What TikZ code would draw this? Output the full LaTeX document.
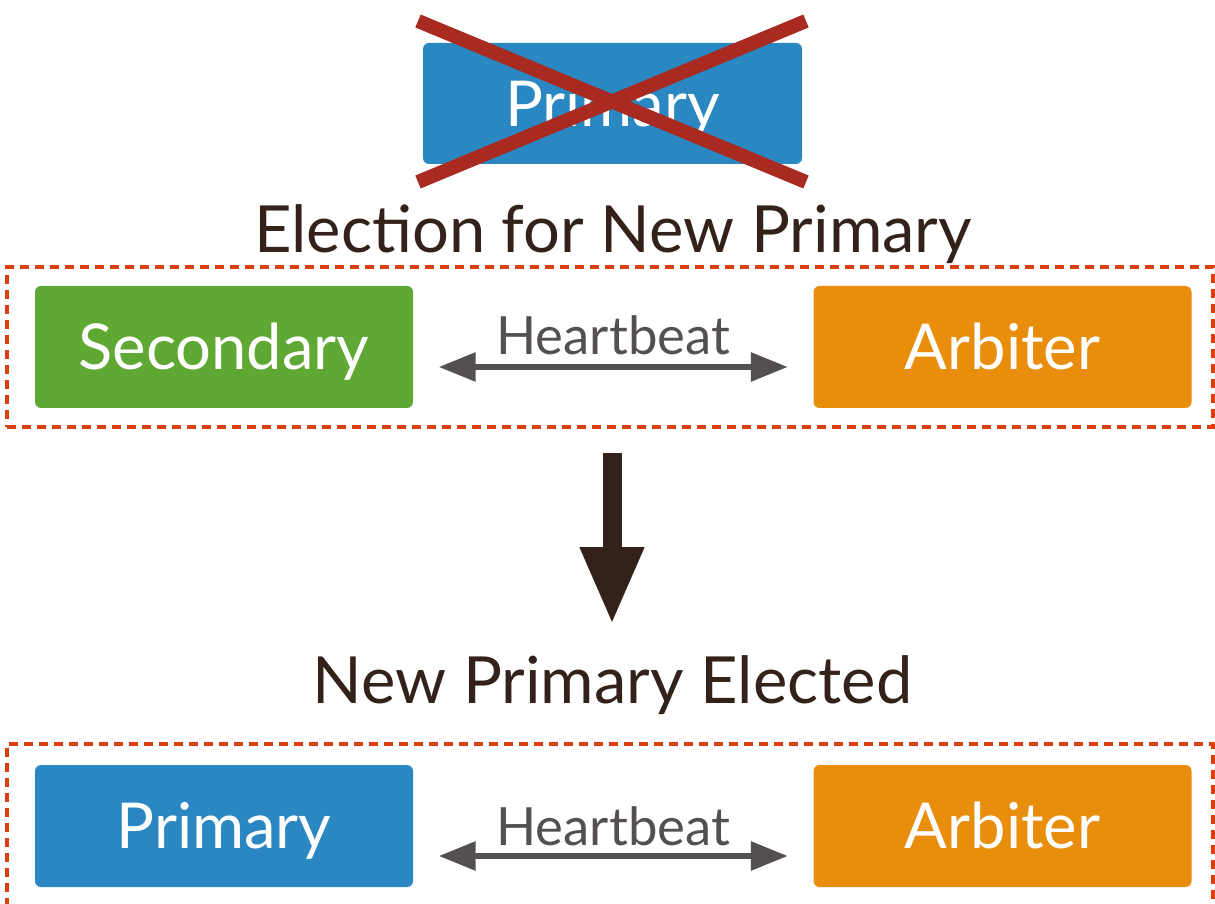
\documentclass[tikz,border=0pt]{standalone}
\usepackage{fontspec}
\setmainfont{Lato}
\usetikzlibrary{arrows.meta}
\usepackage{xcolor}
\definecolor{primblue}{HTML}{2B87C1}
\definecolor{secgreen}{HTML}{5FA833}
\definecolor{arbor}{HTML}{E88D0C}
\definecolor{crossred}{HTML}{A82A20}
\definecolor{dashred}{HTML}{D9400E}
\definecolor{hbgray}{HTML}{545050}
\definecolor{darkbrown}{HTML}{33221A}

\begin{document}
\begin{tikzpicture}[
  member/.style={rectangle,rounded corners=0.06cm,minimum width=3.78cm,minimum height=1.22cm,
    inner sep=0pt,text height=12.9pt,text depth=0pt,text=white,font=\fontsize{18}{20}\selectfont},
  group/.style={rectangle,draw=dashred,line width=0.04cm,dash pattern=on 0.09cm off 0.06cm,
    minimum width=12.06cm,minimum height=1.60cm,inner sep=0pt},
  title/.style={text=darkbrown,anchor=base,inner sep=0pt,font=\fontsize{18.5}{20}\selectfont},
  beat/.style={hbgray,line width=0.06cm,{Triangle[length=0.37cm,width=0.28cm]}-{Triangle[length=0.37cm,width=0.28cm]},
    shorten <=0.25cm,shorten >=0.25cm},
  beatlbl/.style={text=hbgray,anchor=base,inner sep=0pt,font=\fontsize{15}{16}\selectfont}]
\useasboundingbox (0,0) rectangle (12.15,9.03);
\clip (0,0) rectangle (12.15,9.03);

% failed primary
\node[member,fill=primblue,minimum width=3.79cm,minimum height=1.21cm] (oldprim) at (6.125,7.995) {Primary};
\coordinate (xa) at (4.18,8.82);
\coordinate (xb) at (8.06,7.21);
\coordinate (xc) at (4.18,7.21);
\coordinate (xd) at (8.06,8.82);
\draw[crossred,line width=0.14cm] (xa) -- (xb);
\draw[crossred,line width=0.14cm] (xc) -- (xd);

% election
\node[title] (elect) at (6.13,6.50) {Election for New Primary};
\node[group] (grpa) at (6.10,5.56) {};
\node[member,fill=secgreen] (sec) at (2.24,5.56) {Secondary};
\node[member,fill=arbor] (arba) at (10.025,5.56) {Arbiter};
\draw[beat] ([yshift=-0.2cm]sec.east) -- ([yshift=-0.2cm]arba.west)
  node[beatlbl,midway,yshift=0.12cm] {Heartbeat};

% transition
\coordinate (dtop) at (6.12,4.50);
\coordinate (dtip) at (6.12,2.78);
\draw[darkbrown,line width=0.19cm,-{Triangle[length=0.78cm,width=0.59cm]}] (dtop) -- (dtip);

% elected
\node[title] (elected) at (6.125,2.00) {New Primary Elected};
\node[group,minimum height=1.64cm] (grpb) at (6.10,0.77) {};
\node[member,fill=primblue] (prim) at (2.24,0.77) {Primary};
\node[member,fill=arbor] (arbb) at (10.025,0.77) {Arbiter};
\draw[beat] ([yshift=-0.3cm]prim.east) -- ([yshift=-0.3cm]arbb.west)
  node[beatlbl,midway,yshift=0.11cm] {Heartbeat};
\end{tikzpicture}
\end{document}
